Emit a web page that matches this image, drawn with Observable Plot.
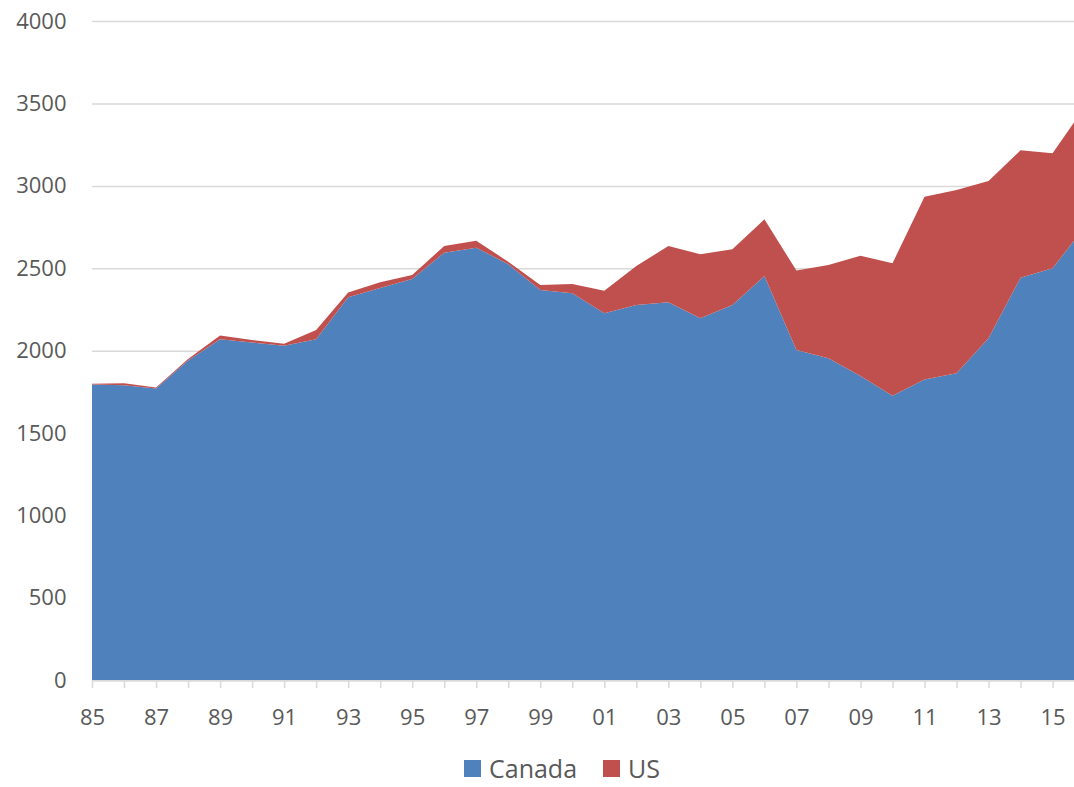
<!DOCTYPE html>
<html>
<head>
<meta charset="utf-8">
<script src="https://cdn.jsdelivr.net/npm/d3@7"></script>
<script src="https://cdn.jsdelivr.net/npm/@observablehq/plot@0.6"></script>
<style>
  html, body { margin: 0; padding: 0; background: #fff; overflow: hidden; }
  #wrap { position: relative; width: 1074px; height: 787px; font-family: "Open Sans", "Noto Sans", sans-serif; }
  #legend { position: absolute; left: 464px; top: 751px; height: 34px; display: flex; align-items: center; color: #595959; font-size: 25px; line-height: 34px; }
  .sw { display: inline-block; width: 17px; height: 17px; margin-right: 8px; }
  .item { display: flex; align-items: center; margin-right: 26px; }
</style>
</head>
<body>
<div id="wrap"><div id="chart"></div><div id="legend"></div></div>
<script>
const years = [1985,1986,1987,1988,1989,1990,1991,1992,1993,1994,1995,1996,1997,1998,1999,2000,2001,2002,2003,2004,2005,2006,2007,2008,2009,2010,2011,2012,2013,2014,2015,2016];
const canada = [1795,1790,1770,1940,2070,2050,2030,2070,2325,2380,2435,2595,2625,2525,2368,2348,2227,2277,2294,2197,2277,2453,2004,1954,1846,1727,1826,1863,2075,2443,2500,2750];
const us = [5,12,6,10,22,15,12,55,28,35,25,40,42,15,30,57,137,237,341,388,338,344,482,566,730,803,1108,1112,955,773,698,727];
const seriesNames = ["Canada", "US"];
const seriesColors = ["#4f81bd", "#c0504d"];
const yTicks = [0,500,1000,1500,2000,2500,3000,3500,4000];

const data = [];
years.forEach((y, i) => {
  data.push({year: y, country: "Canada", value: canada[i]});
  data.push({year: y, country: "US", value: us[i]});
});

const fmtYear = d => (d % 2 === 1) ? String(d % 100).padStart(2, "0") : "";

const chart = Plot.plot({
  width: 1074,
  height: 740,
  marginLeft: 92,
  marginRight: 0,
  marginTop: 21,
  marginBottom: 60,
  style: {fontFamily: "'Open Sans', 'Noto Sans', sans-serif", color: "#595959", overflow: "hidden", background: "#fff"},
  x: {type: "linear", domain: [1985, 2016], range: [92, 1084.6]},
  y: {domain: [0, 4000], range: [680.3, 21.1]},
  color: {domain: seriesNames, range: seriesColors},
  marks: [
    Plot.gridY(yTicks, {stroke: "#d9d9d9", strokeOpacity: 1, strokeWidth: 1.5}),
    Plot.areaY(data, {x: "year", y: "value", fill: "country", order: seriesNames, curve: "linear"}),
    Plot.ruleY([0], {stroke: "#d9d9d9", strokeWidth: 1.5}),
    Plot.axisY(yTicks, {tickSize: 0, tickPadding: 26, fontSize: 22, fill: "#595959", label: null, tickFormat: d => String(d)}),
    Plot.axisX(years, {tickSize: 8, tickPadding: 21, stroke: "#d9d9d9", strokeWidth: 1.5, fontSize: 22, fill: "#595959", tickFormat: fmtYear, label: null})
  ]
});
document.getElementById("chart").appendChild(chart);

const legend = document.getElementById("legend");
seriesNames.forEach((n, i) => {
  const item = document.createElement("span");
  item.className = "item";
  const sw = document.createElement("span");
  sw.className = "sw";
  sw.style.background = seriesColors[i];
  item.appendChild(sw);
  item.appendChild(document.createTextNode(n));
  legend.appendChild(item);
});
</script>
</body>
</html>
